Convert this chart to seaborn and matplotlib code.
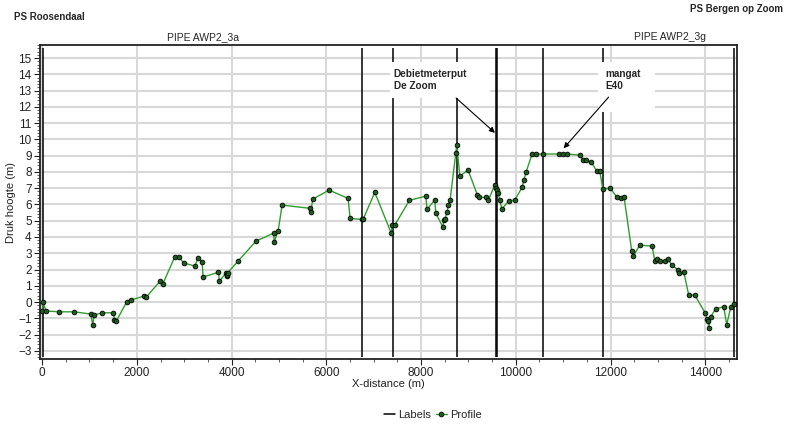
import matplotlib
matplotlib.use("Agg")
import matplotlib.pyplot as plt
import pandas as pd
import seaborn as sns
from matplotlib.lines import Line2D
from matplotlib.patches import Rectangle
from matplotlib.ticker import MultipleLocator, AutoMinorLocator

# profile: distance along the pipe (m) and pressure head (m)
profile_x = [6, 15, 84, 359, 675, 1027, 1069, 1098, 1267, 1506, 1527, 1569,
             1787, 1872, 2153, 2195, 2491, 2547,
             2800, 2885, 2991, 3223, 3293, 3378, 3399, 3722, 3743,
             3880, 3895, 3905, 3920,
             4137, 4517, 4891, 4897, 4982,
             5066, 5657, 5671, 5714, 6058, 6460, 6502, 6748, 6775, 7023,
             7367, 7395, 7445, 7754, 8100, 8127, 8289, 8311, 8459, 8480, 8501, 8550, 8578, 8613,
             8733, 8754, 8818, 8993,
             9190, 9225, 9366, 9422, 9556, 9577, 9605, 9626, 9662, 9704, 9852,
             9978, 10133, 10168, 10217, 10344, 10422,
             10576, 10914, 11005, 11089,
             11351, 11420, 11477, 11597, 11709,
             11773, 11836, 11997, 12132, 12223, 12286,
             12448, 12483, 12617, 12877,
             12934, 12976, 13039, 13158, 13208,
             13299, 13419, 13453, 13546, 13651, 13778,
             13996, 14031, 14059, 14073, 14115, 14221, 14390, 14453, 14537, 14608]
profile_y = [-0.53, 0.02, -0.55, -0.6, -0.6, -0.74, -1.41, -0.8, -0.66, -0.66, -1.1, -1.15,
             0.02, 0.12, 0.37, 0.29, 1.29, 1.11,
             2.77, 2.77, 2.4, 2.21, 2.7, 2.44, 1.54, 1.83, 1.29,
             1.78, 1.6, 1.68, 1.8,
             2.52, 3.75, 4.24, 3.69, 4.36,
             5.96, 5.76, 5.51, 6.33, 6.88, 6.37, 5.14, 5.08, 5.08, 6.74,
             4.26, 4.71, 4.73, 6.25, 6.51, 5.7, 6.27, 5.47, 4.61, 5.02, 5.08, 5.53, 5.96, 6.27,
             9.14, 9.65, 7.74, 8.11,
             6.58, 6.43, 6.43, 6.27, 7.19, 7.0, 6.88, 6.72, 6.27, 5.72, 6.21,
             6.27, 7.05, 7.48, 7.99, 9.1, 9.1,
             9.1, 9.1, 9.1, 9.1,
             9.03, 8.73, 8.71, 8.59, 8.05,
             8.05, 6.95, 7.0, 6.45, 6.39, 6.45,
             3.13, 2.83, 3.5, 3.44,
             2.54, 2.64, 2.52, 2.54, 2.64,
             2.27, 1.99, 1.78, 1.86, 0.43, 0.43,
             -0.66, -1.04, -1.17, -1.6, -0.9, -0.41, -0.29, -1.39, -0.33, -0.12]

# vertical "Labels" lines (m)
label_x = [15, 6755, 7410, 8760, 9592, 9612, 10576, 11843, 14600]

pipe_names = ["PIPE AWP2_3a", "PIPE AWP2_3g"]
station_names = ["PS Roosendaal", "PS Bergen op Zoom"]
note_texts = ["Debietmeterput\nDe Zoom", "mangat\nE40"]
note_tips = [(9560, 10.4), (11010, 9.45)]

df = pd.DataFrame({"x": profile_x, "y": profile_y})

sns.set_style("white")
plt.rcParams["font.family"] = ["Liberation Sans", "DejaVu Sans"]

W, H = 786, 425
fig = plt.figure(figsize=(W / 100, H / 100), dpi=100)
ax = fig.add_axes([40 / W, 1 - 359 / H, (737 - 40) / W, (359 - 45) / H])

ax.set_xlim(-45, 14670)
ax.set_ylim(-3.5, 15.8)

ax.xaxis.set_major_locator(MultipleLocator(2000))
ax.xaxis.set_minor_locator(MultipleLocator(500))
ax.yaxis.set_major_locator(MultipleLocator(1))
ax.yaxis.set_minor_locator(AutoMinorLocator(5))
ax.grid(True, which="major", color="#d8d8d8", linewidth=1.5, zorder=0)
ax.set_axisbelow(True)

ax.vlines(label_x, -3.36, 15.6, colors="black", linewidth=1.1, zorder=2)

sns.lineplot(data=df, x="x", y="y", ax=ax, sort=False, estimator=None,
             color="#2e9e2e", linewidth=1.0, marker="o", markersize=3.4,
             markerfacecolor="#1c5e1c", markeredgecolor="black",
             markeredgewidth=0.6, zorder=3)

# white boxes behind the notes
ax.add_patch(Rectangle((7346, 12.54), 2110, 2.21, facecolor="white",
                       edgecolor="none", zorder=4))
ax.add_patch(Rectangle((11737, 11.7), 1200, 3.05, facecolor="white",
                       edgecolor="none", zorder=4))

ax.text(7420, 14.35, note_texts[0], fontsize=7.2, fontweight="bold",
        va="top", ha="left", linespacing=1.35, zorder=5)
ax.text(11885, 14.35, note_texts[1], fontsize=7.2, fontweight="bold",
        va="top", ha="left", linespacing=1.35, zorder=5)
arrow = dict(arrowstyle="-|>", color="black", lw=0.8, mutation_scale=8,
             shrinkA=0, shrinkB=0)
ax.annotate("", xy=note_tips[0], xytext=(8740, 12.54), arrowprops=arrow, zorder=6)
ax.annotate("", xy=note_tips[1], xytext=(11960, 12.6), arrowprops=arrow, zorder=6)

for side in ["left", "right", "top", "bottom"]:
    ax.spines[side].set_color("#222222")
    ax.spines[side].set_linewidth(1.3)

ax.tick_params(axis="both", which="major", direction="out", length=4, width=0.8,
               labelsize=8.5, colors="#222222", left=True, bottom=True, pad=2)
ax.tick_params(axis="both", which="minor", direction="out", length=2.5, width=0.6,
               colors="#444444", left=True, bottom=True)

ax.set_xlabel("X-distance (m)", fontsize=8, color="#222222")
ax.set_ylabel("Druk hoogte (m)", fontsize=8, color="#222222")
ax.xaxis.set_label_coords(0.5, -0.065)
ax.yaxis.set_label_coords(-0.034, 0.5)

fig.text(14 / W, 1 - 17 / H, station_names[0], fontsize=7, fontweight="bold",
         ha="left", va="center")
fig.text(783 / W, 1 - 9 / H, station_names[1], fontsize=7, fontweight="bold",
         ha="right", va="center")
fig.text(203 / W, 1 - 37 / H, pipe_names[0], fontsize=7.5, ha="center", va="center")
fig.text(670 / W, 1 - 37 / H, pipe_names[1], fontsize=7.5, ha="center", va="center")

handles = [Line2D([], [], color="black", linewidth=1.1),
           Line2D([], [], color="#2e9e2e", linewidth=1.0, marker="o", markersize=3.4,
                  markerfacecolor="#1c5e1c", markeredgecolor="black",
                  markeredgewidth=0.6)]
fig.legend(handles, ["Labels", "Profile"], loc="center",
           bbox_to_anchor=(433 / W, 1 - 415 / H), ncol=2, frameon=False,
           fontsize=8, handlelength=1.0, handletextpad=0.3, columnspacing=0.4)

fig.savefig("out.png", dpi=100)
